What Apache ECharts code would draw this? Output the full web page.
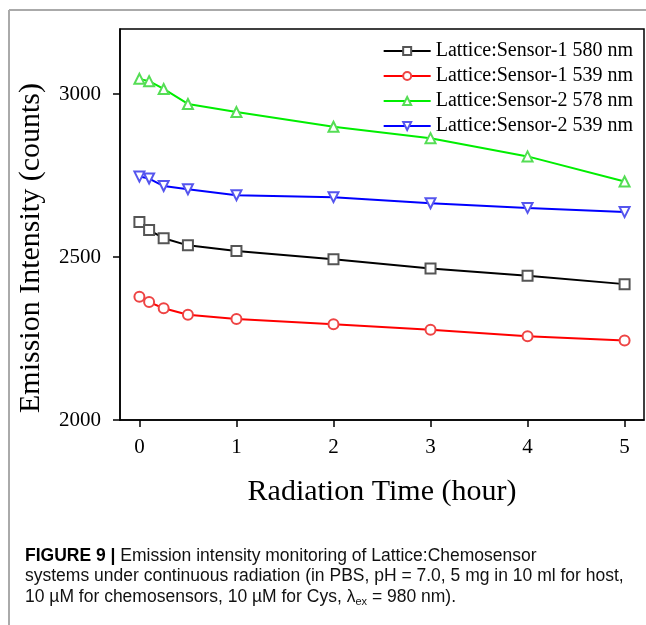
<!DOCTYPE html>
<html>
<head>
<meta charset="utf-8">
<script src="https://cdn.jsdelivr.net/npm/echarts@6/dist/echarts.min.js"></script>
<style>
  html, body { margin: 0; padding: 0; background: #fff; }
  #chart { width: 646px; height: 625px; }
</style>
</head>
<body>
<div id="chart"></div>
<script>
// radiation time (hour)
const times = [0, 0.1, 0.25, 0.5, 1, 2, 3, 4, 5];
const xTicks = [0, 1, 2, 3, 4, 5];
const yTicks = [2000, 2500, 3000];

// emission intensity (counts)
const s1_580 = [2608, 2583, 2558, 2536, 2519, 2493, 2465, 2443, 2417];
const s1_539 = [2378, 2362, 2343, 2323, 2310, 2294, 2277, 2257, 2244];
const s2_578 = [3047, 3040, 3016, 2970, 2945, 2900, 2865, 2809, 2732];
const s2_539 = [2747, 2741, 2718, 2708, 2690, 2684, 2665, 2651, 2638];

const names = [
  'Lattice:Sensor-1 580 nm',
  'Lattice:Sensor-1 539 nm',
  'Lattice:Sensor-2 578 nm',
  'Lattice:Sensor-2 539 nm'
];

const serif = '"Liberation Serif", "Times New Roman", serif';
const sans = '"Liberation Sans", Arial, sans-serif';

function pairs(vals) {
  return times.map((t, i) => [t, vals[i]]);
}

function makeSeries(name, vals, lineColor, markColor, symbol, rotate) {
  return {
    name: name,
    type: 'line',
    data: pairs(vals),
    symbol: symbol,
    symbolSize: 10,
    symbolRotate: rotate,
    showAllSymbol: true,
    lineStyle: { color: lineColor, width: 2 },
    itemStyle: { color: markColor, borderWidth: 1.3 },
    emphasis: { disabled: true }
  };
}

let chart = echarts.init(document.getElementById('chart'));
let option = {
  backgroundColor: '#fff',
  animation: false,
  grid: {
    left: 120,
    top: 29,
    right: 2,
    bottom: 205,
    show: true,
    borderColor: '#000',
    borderWidth: 1.5,
    backgroundColor: 'transparent'
  },
  legend: {
    orient: 'vertical',
    right: 8,
    top: 36,
    itemGap: 5,
    itemWidth: 47,
    itemHeight: 10,
    textStyle: { fontFamily: serif, fontSize: 20, color: '#000' },
    data: names
  },
  xAxis: {
    type: 'value',
    min: -0.2,
    max: 5.2,
    name: 'Radiation Time (hour)',
    nameLocation: 'middle',
    nameGap: 57,
    nameTextStyle: { fontFamily: serif, fontSize: 30, color: '#000' },
    splitLine: { show: false },
    axisLine: { show: true, onZero: false, lineStyle: { color: '#000', width: 1.5 } },
    axisTick: { show: true, length: 7, customValues: xTicks, lineStyle: { color: '#000', width: 1.5 } },
    axisLabel: { customValues: xTicks, margin: 17, fontFamily: serif, fontSize: 21, color: '#000' }
  },
  yAxis: {
    type: 'value',
    min: 2000,
    max: 3200,
    splitLine: { show: false },
    axisLine: { show: true, onZero: false, lineStyle: { color: '#000', width: 1.5 } },
    axisTick: { show: true, length: 7, customValues: yTicks, lineStyle: { color: '#000', width: 1.5 } },
    axisLabel: {
      customValues: yTicks, margin: 19, fontFamily: serif, fontSize: 21, color: '#000',
      formatter: v => String(v)
    }
  },
  series: [
    makeSeries(names[0], s1_580, '#000000', '#555555', 'emptyRect', 0),
    makeSeries(names[1], s1_539, '#ff0000', '#ee4444', 'emptyCircle', 0),
    makeSeries(names[2], s2_578, '#00ee00', '#55dd55', 'emptyTriangle', 0),
    makeSeries(names[3], s2_539, '#0000ff', '#5555ee', 'emptyTriangle', 180)
  ],
  graphic: [
    // grey page frame
    { type: 'line', shape: { x1: 9, y1: 10, x2: 646, y2: 10 }, style: { stroke: '#aaaaaa', lineWidth: 2 } },
    { type: 'line', shape: { x1: 9, y1: 10, x2: 9, y2: 625 }, style: { stroke: '#aaaaaa', lineWidth: 2 } },
    // y axis title, sits a bit below the plot middle in the original
    {
      type: 'text', x: 31, y: 248, rotation: Math.PI / 2,
      style: {
        text: 'Emission Intensity (counts)',
        font: '30px ' + serif,
        fill: '#000',
        align: 'center',
        verticalAlign: 'middle'
      }
    },
    // caption
    {
      type: 'text', left: 25, top: 547,
      style: {
        text: '{b|FIGURE 9 |} Emission intensity monitoring of Lattice:Chemosensor',
        font: '17.5px ' + sans,
        fill: '#111',
        rich: { b: { fontWeight: 'bold', fontSize: 17.5, fontFamily: sans, fill: '#000' } }
      }
    },
    {
      type: 'text', left: 25, top: 567,
      style: {
        text: 'systems under continuous radiation (in PBS, pH = 7.0, 5 mg in 10 ml for host,',
        font: '17.5px ' + sans,
        fill: '#111'
      }
    },
    {
      type: 'text', left: 25, top: 588,
      style: {
        text: '10 µM for chemosensors, 10 µM for Cys, λ{s|ex} = 980 nm).',
        font: '17.5px ' + sans,
        fill: '#111',
        rich: { s: { fontSize: 11, padding: [10, 0, 0, 0], fontFamily: sans, fill: '#111' } }
      }
    }
  ]
};

chart.setOption(option, true);
</script>
</body>
</html>
